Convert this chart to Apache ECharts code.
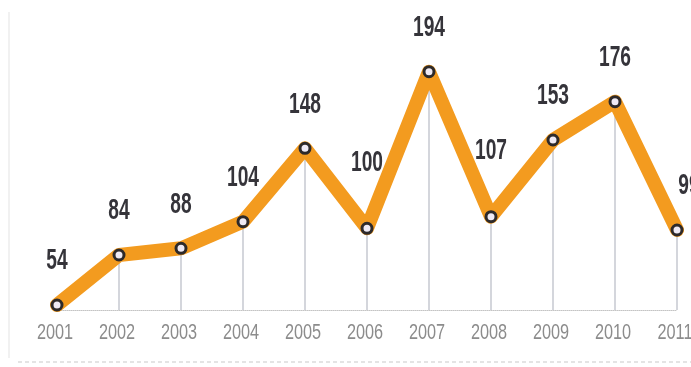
<!DOCTYPE html>
<html>
<head>
<meta charset="utf-8">
<script src="https://cdn.jsdelivr.net/npm/echarts@6/dist/echarts.min.js"></script>
<style>
  html, body { margin: 0; padding: 0; background: #ffffff; }
  #chart { width: 691px; height: 367px; }
</style>
</head>
<body>
<div id="chart"></div>
<script>
// Yearly totals, 2001–2011
const years = ['2001', '2002', '2003', '2004', '2005', '2006', '2007', '2008', '2009', '2010', '2011'];
const totals = [54, 84, 88, 104, 148, 100, 194, 107, 153, 176, 99];

const Y_MIN = 51;
const Y_MAX = 213;
const lastIndex = totals.length - 1;

// a point lower than both neighbours gets its label lifted clear of the line
function isValley(i) {
  return i > 0 && i < lastIndex && totals[i] < totals[i - 1] && totals[i] < totals[i + 1];
}

const chart = echarts.init(document.getElementById('chart'), null, { renderer: 'canvas' });

chart.setOption({
  animation: false,
  backgroundColor: '#ffffff',
  grid: { left: 57, right: 14, top: 40, bottom: 57 },
  xAxis: {
    type: 'category',
    data: years,
    boundaryGap: false,
    axisLine: { show: true, lineStyle: { color: '#c4c4c4', width: 1, type: 'dotted' } },
    axisTick: { show: false },
    axisLabel: { show: false },
    splitLine: { show: false }
  },
  yAxis: {
    type: 'value',
    min: Y_MIN,
    max: Y_MAX,
    show: false,
    splitLine: { show: false }
  },
  graphic: [
    {
      type: 'line',
      shape: { x1: 9, y1: 12, x2: 9, y2: 358 },
      style: { stroke: '#ececec', lineWidth: 1.5 },
      silent: true
    },
    {
      type: 'line',
      shape: { x1: 18, y1: 362, x2: 691, y2: 362 },
      style: { stroke: '#dcdcdc', lineWidth: 1.5, lineDash: [4, 3] },
      silent: true
    }
  ],
  series: [
    {
      // thin drop lines from each point to the baseline
      type: 'bar',
      data: totals,
      barWidth: 2,
      clip: true,
      itemStyle: { color: '#d4d6dc' },
      silent: true,
      z: 1
    },
    {
      type: 'line',
      data: totals,
      z: 3,
      lineStyle: { color: '#f39b1f', width: 14, join: 'round', cap: 'round' },
      symbol: 'circle',
      symbolSize: 10,
      itemStyle: { color: '#efeaf4', borderColor: '#2e2a2a', borderWidth: 3 },
      label: { show: false }
    },
    {
      // value labels in a narrow, tall bold face
      type: 'custom',
      data: totals,
      z: 5,
      silent: true,
      clip: false,
      renderItem: function (params, api) {
        const i = params.dataIndex;
        const pt = api.coord([i, totals[i]]);
        const lift = isValley(i) ? 66 : 44;
        const dx = i === lastIndex ? 12 : 0;
        return {
          type: 'text',
          x: pt[0] + dx,
          y: pt[1] - lift,
          scaleX: 0.64,
          style: {
            text: String(totals[i]),
            fill: '#35343a',
            font: 'bold 30px "Liberation Sans", Arial, sans-serif',
            align: 'center',
            verticalAlign: 'middle'
          }
        };
      }
    },
    {
      // year labels under the baseline
      type: 'custom',
      data: totals,
      z: 5,
      silent: true,
      clip: false,
      renderItem: function (params, api) {
        const i = params.dataIndex;
        const pt = api.coord([i, Y_MIN]);
        return {
          type: 'text',
          x: pt[0] - 2,
          y: pt[1] + 23,
          scaleX: 0.74,
          style: {
            text: years[i],
            fill: '#8c8c8c',
            font: '22px "Liberation Sans", Arial, sans-serif',
            align: 'center',
            verticalAlign: 'middle'
          }
        };
      }
    }
  ]
});
</script>
</body>
</html>
